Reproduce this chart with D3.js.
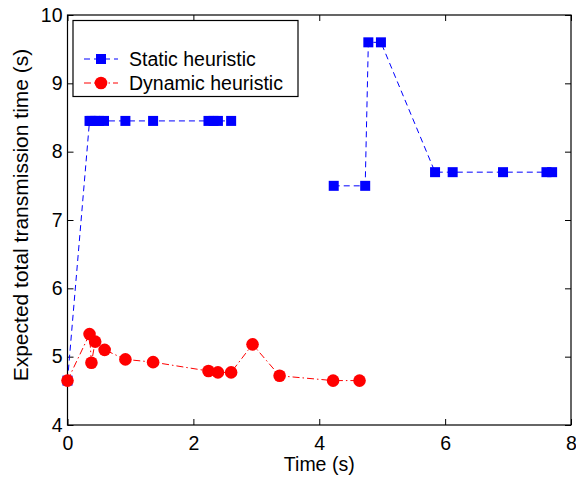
<!DOCTYPE html>
<html lang="en">
<head>
<meta charset="UTF-8">
<title>Transmission time</title>
<style>
  body { margin: 0; background: #fff; }
  svg text { font-family: "Liberation Sans", Arial, Helvetica, sans-serif; fill: #000; }
</style>
<script src="https://cdn.jsdelivr.net/npm/d3@7/dist/d3.min.js"></script>
</head>
<body>
<script>
// static heuristic (null = gap in the line)
var staticX = [0, 0.35, 0.38, 0.44, 0.50, 0.58, 0.92, 1.36, 2.24, 2.32, 2.39, 2.60, null,
  4.23, 4.73, 4.78, 4.98, 5.84, 6.12, 6.92, 7.61, 7.70];
var staticY = [4.65, 8.45, 8.45, 8.45, 8.45, 8.45, 8.45, 8.45, 8.45, 8.45, 8.45, 8.45, null,
  7.5, 7.5, 9.6, 9.6, 7.7, 7.7, 7.7, 7.7, 7.7];
// dynamic heuristic
var dynX = [0, 0.35, 0.38, 0.44, 0.59, 0.92, 1.36, 2.24, 2.39, 2.60, 2.94, 3.37, 4.22, 4.64];
var dynY = [4.65, 5.33, 4.91, 5.22, 5.10, 4.96, 4.92, 4.79, 4.77, 4.77, 5.18, 4.72, 4.65, 4.65];
var xTicks = [0, 2, 4, 6, 8];
var yTicks = [4, 5, 6, 7, 8, 9, 10];
var seriesNames = ["Static heuristic", "Dynamic heuristic"];

var W = 576, H = 479;
var margin = {top: 15, right: 5, bottom: 54, left: 67.5},
    width = W - margin.left - margin.right,
    height = H - margin.top - margin.bottom;

var x = d3.scaleLinear().domain([0, 8]).range([0, width]);
var y = d3.scaleLinear().domain([4, 10]).range([height, 0]);

var svg = d3.select("body").append("svg")
  .attr("width", W).attr("height", H);
var g = svg.append("g")
  .attr("transform", "translate(" + margin.left + "," + margin.top + ")");

var fs = "19.5px";
var fmt = d3.format("d");

// ticks on all four sides, pointing inward
var tl = 6;
g.append("g").attr("transform", "translate(0," + height + ")")
  .call(d3.axisBottom(x).tickValues(xTicks).tickFormat(fmt).tickSizeInner(-tl).tickSizeOuter(0).tickPadding(11))
  .call(function (a) { a.select(".domain").remove(); a.selectAll("text").style("font-size", fs); });
g.append("g")
  .call(d3.axisTop(x).tickValues(xTicks).tickSizeInner(-tl).tickSizeOuter(0).tickFormat(""))
  .call(function (a) { a.select(".domain").remove(); });
g.append("g")
  .call(d3.axisLeft(y).tickValues(yTicks).tickFormat(fmt).tickSizeInner(-tl).tickSizeOuter(0).tickPadding(5))
  .call(function (a) { a.select(".domain").remove(); a.selectAll("text").style("font-size", fs); });
g.append("g").attr("transform", "translate(" + width + ",0)")
  .call(d3.axisRight(y).tickValues(yTicks).tickSizeInner(-tl).tickSizeOuter(0).tickFormat(""))
  .call(function (a) { a.select(".domain").remove(); });
g.selectAll(".tick line").attr("stroke", "#000");

g.append("rect")
  .attr("width", width).attr("height", height)
  .attr("fill", "none").attr("stroke", "#000").attr("stroke-width", 1.2);

// lines
var staticData = staticX.map(function (d, i) { return {x: d, y: staticY[i]}; });
var dynData = dynX.map(function (d, i) { return {x: d, y: dynY[i]}; });
var line = d3.line()
  .defined(function (d) { return d.x != null; })
  .x(function (d) { return x(d.x); })
  .y(function (d) { return y(d.y); });

g.append("path").datum(staticData)
  .attr("d", line).attr("fill", "none")
  .attr("stroke", "#0000ff").attr("stroke-width", 1).attr("stroke-dasharray", "6,4");
g.selectAll(".sq").data(staticData.filter(function (d) { return d.x != null; }))
  .enter().append("rect")
  .attr("x", function (d) { return x(d.x) - 5; })
  .attr("y", function (d) { return y(d.y) - 5; })
  .attr("width", 10).attr("height", 10)
  .attr("fill", "#0000ff");

g.append("path").datum(dynData)
  .attr("d", line).attr("fill", "none")
  .attr("stroke", "#ff0000").attr("stroke-width", 1).attr("stroke-dasharray", "7,3,1.5,3");
g.selectAll(".dot").data(dynData)
  .enter().append("circle")
  .attr("cx", function (d) { return x(d.x); })
  .attr("cy", function (d) { return y(d.y); })
  .attr("r", 6.3)
  .attr("fill", "#ff0000");

// axis labels
svg.append("text")
  .attr("x", margin.left + width / 2).attr("y", 471)
  .attr("text-anchor", "middle").style("font-size", fs)
  .text("Time (s)");
svg.append("text")
  .attr("transform", "translate(28,215) rotate(-90)")
  .attr("text-anchor", "middle").style("font-size", "21px")
  .text("Expected total transmission time (s)");

// legend
var lg = svg.append("g");
lg.append("rect")
  .attr("x", 73).attr("y", 20.5).attr("width", 225).attr("height", 76)
  .attr("fill", "#fff").attr("stroke", "#000").attr("stroke-width", 1.2);
var ly = [59, 83];
lg.append("line").attr("x1", 84).attr("x2", 118).attr("y1", ly[0]).attr("y2", ly[0])
  .attr("stroke", "#0000ff").attr("stroke-dasharray", "6,4");
lg.append("rect").attr("x", 96).attr("y", ly[0] - 5).attr("width", 10).attr("height", 10)
  .attr("fill", "#0000ff");
lg.append("line").attr("x1", 84).attr("x2", 118).attr("y1", ly[1]).attr("y2", ly[1])
  .attr("stroke", "#ff0000").attr("stroke-dasharray", "7,3,1.5,3");
lg.append("circle").attr("cx", 101).attr("cy", ly[1]).attr("r", 6.3).attr("fill", "#ff0000");
lg.selectAll(".lt").data(seriesNames).enter().append("text")
  .attr("x", 129).attr("y", function (d, i) { return ly[i] + 7; })
  .style("font-size", fs)
  .text(function (d) { return d; });
</script>
</body>
</html>
